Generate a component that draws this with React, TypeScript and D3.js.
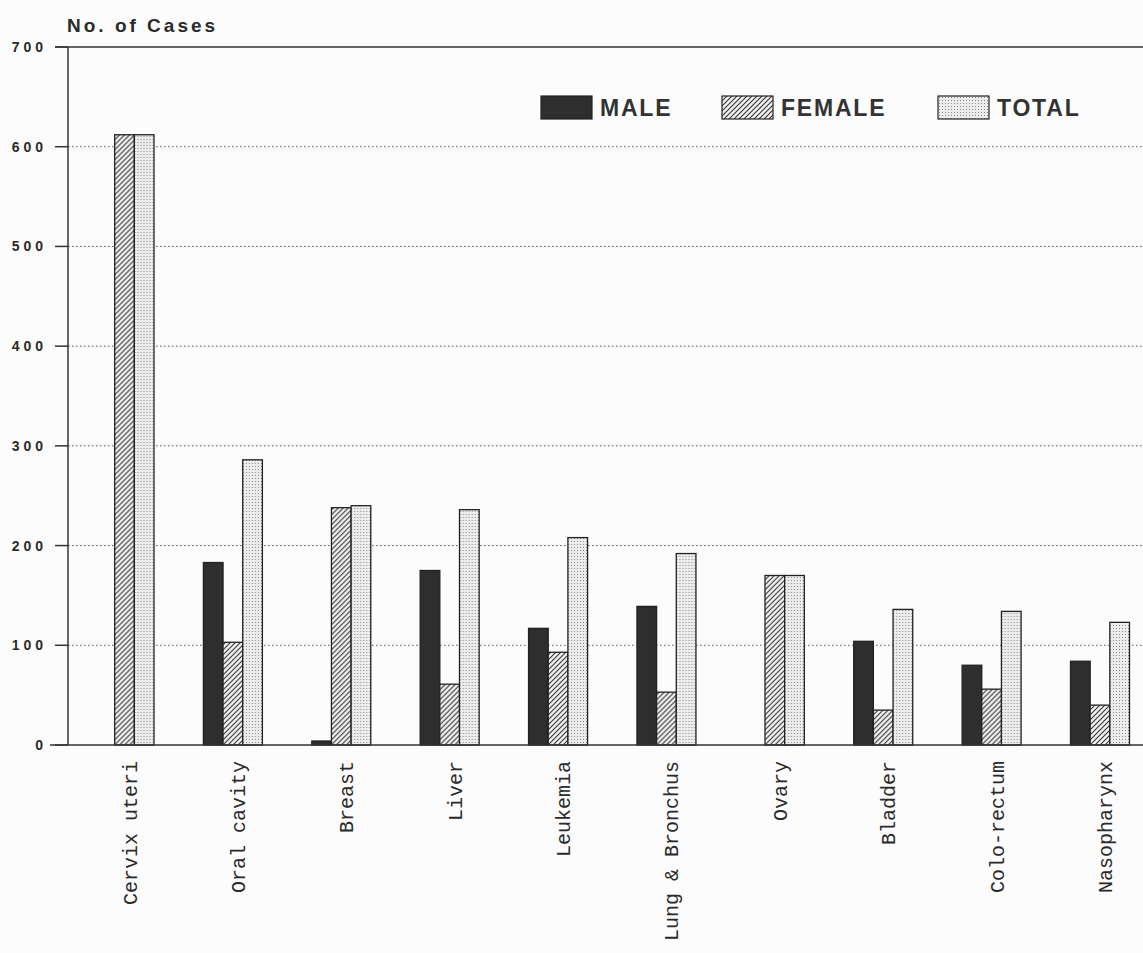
import React from "react";
import * as d3 from "d3";

const categories = [
  "Cervix uteri",
  "Oral cavity",
  "Breast",
  "Liver",
  "Leukemia",
  "Lung & Bronchus",
  "Ovary",
  "Bladder",
  "Colo-rectum",
  "Nasopharynx",
];
const maleValues = [0, 183, 4, 175, 117, 139, 0, 104, 80, 84];
const femaleValues = [612, 103, 238, 61, 93, 53, 170, 35, 56, 40];
const totalValues = [612, 286, 240, 236, 208, 192, 170, 136, 134, 123];
const seriesNames = ["MALE", "FEMALE", "TOTAL"];
const yTicks = [0, 100, 200, 300, 400, 500, 600, 700];
const yTitle = "No. of Cases";

const W = 1143;
const H = 953;

export default function App() {
  const y = d3.scaleLinear().domain([0, 700]).range([745, 47]);
  const xGroup = d3.scalePoint<string>().domain(categories).range([124.5, 1100]);
  const xSeries = d3.scaleBand<string>().domain(seriesNames).range([-29.5, 29.5]).padding(0);
  const fills: Record<string, string> = {
    MALE: "#2e2e2e",
    FEMALE: "url(#hatch)",
    TOTAL: "url(#stipple)",
  };
  const values: Record<string, number[]> = {
    MALE: maleValues,
    FEMALE: femaleValues,
    TOTAL: totalValues,
  };
  const legendX = [541, 722, 938];

  return (
    <svg
      width={W}
      height={H}
      viewBox={`0 0 ${W} ${H}`}
      style={{ position: "absolute", left: 0, top: 0, background: "#fcfcfc" }}
    >
      <defs>
        <pattern id="hatch" patternUnits="userSpaceOnUse" width="5" height="5">
          <rect width="5" height="5" fill="#f2f2f2" />
          <path d="M-1,1 l2,-2 M0,5 l5,-5 M4,6 l2,-2" stroke="#333" strokeWidth="1.1" />
        </pattern>
        <pattern id="stipple" patternUnits="userSpaceOnUse" width="3" height="3">
          <rect width="3" height="3" fill="#ececec" />
          <rect x="1" y="1" width="1" height="1" fill="#8a8a8a" />
        </pattern>
      </defs>

      {/* title */}
      <text
        x={67}
        y={32}
        fontFamily="'Liberation Sans', Arial, sans-serif"
        fontWeight="bold"
        fontSize={19}
        letterSpacing={3}
        fill="#2a2a2a"
      >
        {yTitle}
      </text>

      {/* grid lines */}
      {yTicks.map((t) =>
        t === 0 || t === 700 ? null : (
          <line
            key={"g" + t}
            x1={68}
            x2={W}
            y1={y(t)}
            y2={y(t)}
            stroke="#555"
            strokeWidth={1}
            strokeDasharray="1.5,2.5"
          />
        )
      )}

      {/* top frame line */}
      <line x1={55} x2={W} y1={y(700)} y2={y(700)} stroke="#333" strokeWidth={1.5} />

      {/* bars */}
      {categories.map((c, i) => (
        <g key={c} transform={`translate(${xGroup(c)},0)`}>
          {seriesNames.map((s) => {
            const v = values[s][i];
            if (!v) return null;
            return (
              <rect
                key={s}
                x={xSeries(s)}
                y={y(v)}
                width={xSeries.bandwidth()}
                height={y(0) - y(v)}
                fill={fills[s]}
                stroke="#222"
                strokeWidth={1.3}
              />
            );
          })}
        </g>
      ))}

      {/* axes */}
      <line x1={68} x2={68} y1={y(700)} y2={y(0)} stroke="#333" strokeWidth={1.5} />
      <line x1={50} x2={W} y1={y(0)} y2={y(0)} stroke="#333" strokeWidth={1.5} />
      {yTicks.map((t) => (
        <g key={"t" + t}>
          <line x1={55} x2={68} y1={y(t)} y2={y(t)} stroke="#333" strokeWidth={1.5} />
          <text
            x={47}
            y={y(t)}
            dy="0.36em"
            textAnchor="end"
            fontFamily="'Liberation Sans', Arial, sans-serif"
            fontWeight="bold"
            fontSize={14}
            letterSpacing={4}
            fill="#2a2a2a"
          >
            {t}
          </text>
        </g>
      ))}

      {/* category labels */}
      {categories.map((c) => (
        <text
          key={"l" + c}
          transform={`translate(${(xGroup(c) ?? 0) + 5},761) rotate(-90)`}
          textAnchor="end"
          dy="0.35em"
          fontFamily="'Liberation Mono', 'Courier New', monospace"
          fontSize={20}
          fill="#2a2a2a"
        >
          {c}
        </text>
      ))}

      {/* legend */}
      {seriesNames.map((s, i) => (
        <g key={"lg" + s} transform={`translate(${legendX[i]},96)`}>
          <rect width={51} height={23} fill={fills[s]} stroke="#222" strokeWidth={1.2} />
          <text
            x={59}
            y={11.5}
            dy="0.36em"
            fontFamily="'Liberation Sans', Arial, sans-serif"
            fontWeight="bold"
            fontSize={23}
            letterSpacing={1.8}
            fill="#333"
          >
            {s}
          </text>
        </g>
      ))}
    </svg>
  );
}
